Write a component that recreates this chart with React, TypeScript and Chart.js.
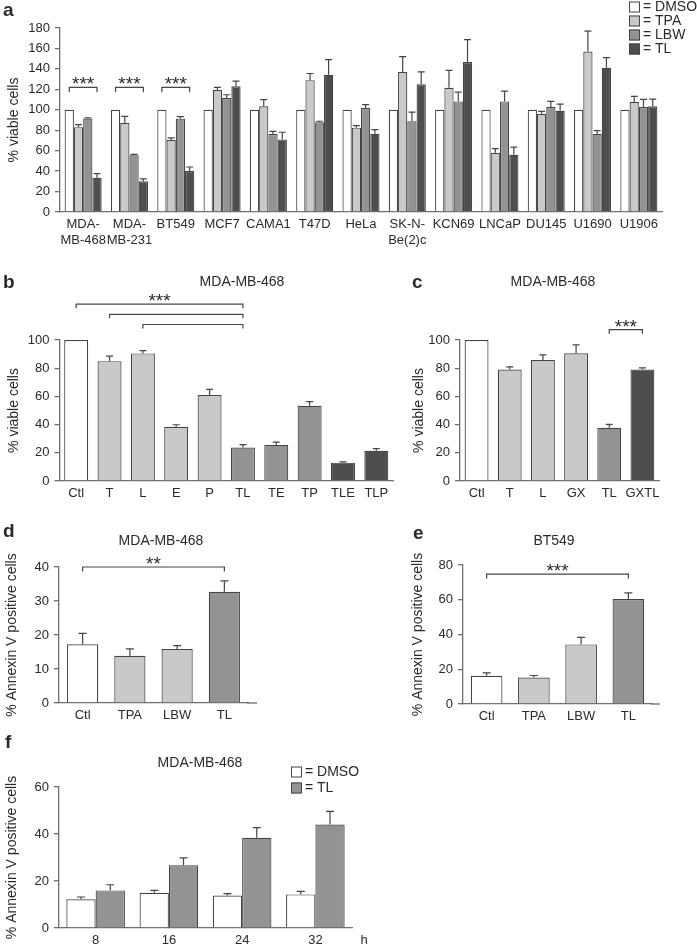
import React, { useEffect, useRef } from 'react';
import { Chart, registerables } from 'chart.js';
Chart.register(...registerables);

const FONT = '"Liberation Sans", Arial, Helvetica, sans-serif';
const INK = '#2a2a2a';
const AXIS = '#6f6f6f';
const EDGE = '#454545';
const WHITE = '#ffffff';
const LIGHT = '#c9c9c9';
const MID = '#939393';
const DARK = '#4e4e4e';
const SHADE_BY_DRUGS = [WHITE, LIGHT, MID, DARK];

// ---------- panel a ----------
const cellLinesA = [['MDA-', 'MB-468'], ['MDA-', 'MB-231'], 'BT549', 'MCF7', 'CAMA1', 'T47D', 'HeLa', ['SK-N-', 'Be(2)c'], 'KCN69', 'LNCaP', 'DU145', 'U1690', 'U1906'];
const dmsoA = [100, 100, 100, 100, 100, 100, 100, 100, 100, 100, 100, 100, 100];
const tpaA = [83, 87, 70.5, 119.5, 103.4, 129, 82.5, 137, 121.5, 58, 96, 157, 107.6];
const tpaErrA = [2.5, 6.5, 2, 2.5, 6.5, 6.5, 2, 15, 17, 4, 2.5, 20, 5.5];
const lbwA = [91.3, 55.5, 91.3, 111.5, 76.3, 87.8, 101.7, 88.7, 108.2, 108.2, 102.7, 76.6, 102.7];
const lbwErrA = [0.7, 0.8, 2, 3.2, 2.6, 1, 3.3, 9, 9, 10, 5.5, 3, 7.5];
const tlA = [33.5, 30, 40, 123, 71, 134.3, 76.6, 125, 146.7, 56, 99, 141, 103.4];
const tlErrA = [4, 2.5, 4, 5, 7, 14.7, 4, 12, 22, 7.5, 6.5, 10, 7];
const sigGroupsA = [0, 1, 2];
const sigLevelA = 122;

// ---------- panel b ----------
const treatB = ['Ctl', 'T', 'L', 'E', 'P', 'TL', 'TE', 'TP', 'TLE', 'TLP'];
const viableB = [100, 85, 90.5, 38.4, 61, 23.8, 25.6, 53.3, 13, 21.5];
const errB = [0, 3.5, 2, 1.5, 4, 2, 2, 3, 0.5, 1.5];
const drugsB = [0, 1, 1, 1, 1, 2, 2, 2, 3, 3];

// ---------- panel c ----------
const treatC = ['Ctl', 'T', 'L', 'GX', 'TL', 'GXTL'];
const viableC = [100, 79, 85.8, 90.6, 37.7, 79];
const errC = [0, 2, 3.6, 6, 2.4, 1.2];
const drugsC = [0, 1, 1, 1, 2, 3];

// ---------- panel d ----------
const treatD = ['Ctl', 'TPA', 'LBW', 'TL'];
const annexinD = [17.3, 13.9, 15.9, 32.7];
const errD = [3.2, 2, 1, 3.2];
const drugsD = [0, 1, 1, 2];

// ---------- panel e ----------
const treatE = ['Ctl', 'TPA', 'LBW', 'TL'];
const annexinE = [16.2, 15.2, 34.3, 60.4];
const errE = [1.7, 1.2, 4, 3.5];
const drugsE = [0, 1, 1, 2];

// ---------- panel f ----------
const hoursF = ['8', '16', '24', '32'];
const dmsoF = [12.2, 15, 13.8, 14.3];
const dmsoErrF = [1, 1, 0.8, 1.3];
const tlF = [16, 26.7, 38.4, 44];
const tlErrF = [2.4, 3.1, 4.3, 5.6];

const YW = 48;

type Rect = { x: number; y: number; w: number; h: number };
type Area = { l: number; r: number; t: number; b: number };
type Spec = {
  canvas: Rect;
  area: Area;
  xh: number;
  labels: any[];
  datasets: { label: string; data: number[]; color: any }[];
  errors: (number[] | null)[];
  yMax: number;
  yStep: number;
  catPct: number;
  barPct: number;
  cap: number;
  drop: number;
  tail?: number;
  brackets: { from: [number, number]; to: [number, number]; at: number; mark?: string }[];
  letter: { text: string; x: number; y: number };
  title?: { text: string; x: number; y: number };
  yTitle: { text: string; x: number };
  legend?: { x: number; y: number; dy: number; box: number };
  notes?: { text: string; x: number; y: number }[];
};

function makeDecor(p: Spec) {
  return {
    id: 'decor',
    afterDatasetsDraw(chart: any) {
      const ctx = chart.ctx;
      const ys = chart.scales.y;
      ctx.save();
      ctx.strokeStyle = EDGE;
      ctx.lineWidth = 1.2;
      p.errors.forEach((errs, di) => {
        if (!errs) return;
        const meta = chart.getDatasetMeta(di);
        const vals = chart.data.datasets[di].data;
        meta.data.forEach((el: any, i: number) => {
          const e = errs[i];
          if (!e) return;
          const top = ys.getPixelForValue(vals[i] + e);
          ctx.beginPath();
          ctx.moveTo(el.x, el.y);
          ctx.lineTo(el.x, top);
          ctx.moveTo(el.x - p.cap / 2, top);
          ctx.lineTo(el.x + p.cap / 2, top);
          ctx.stroke();
        });
      });
      p.brackets.forEach((b) => {
        const x1 = chart.getDatasetMeta(b.from[0]).data[b.from[1]].x;
        const x2 = chart.getDatasetMeta(b.to[0]).data[b.to[1]].x;
        const y = ys.getPixelForValue(b.at);
        ctx.beginPath();
        ctx.moveTo(x1, y + p.drop);
        ctx.lineTo(x1, y);
        ctx.lineTo(x2, y);
        ctx.lineTo(x2, y + p.drop);
        ctx.stroke();
        if (b.mark) {
          ctx.fillStyle = INK;
          ctx.font = `19px ${FONT}`;
          ctx.textAlign = 'center';
          ctx.textBaseline = 'alphabetic';
          ctx.fillText(b.mark, (x1 + x2) / 2, y + 3);
        }
      });
      if (p.tail) {
        const ca = chart.chartArea;
        ctx.strokeStyle = AXIS;
        ctx.lineWidth = 1.3;
        ctx.beginPath();
        ctx.moveTo(ca.right - 1, ca.bottom);
        ctx.lineTo(ca.right + p.tail, ca.bottom);
        ctx.stroke();
      }
      ctx.restore();
    },
    afterDraw(chart: any) {
      const { ctx, chartArea } = chart;
      ctx.save();
      ctx.fillStyle = INK;
      ctx.font = `bold 19px ${FONT}`;
      ctx.textAlign = 'left';
      ctx.textBaseline = 'middle';
      ctx.fillText(p.letter.text, p.letter.x, p.letter.y);
      if (p.title) {
        ctx.font = `14px ${FONT}`;
        ctx.textAlign = 'center';
        ctx.fillText(p.title.text, p.title.x, p.title.y);
      }
      ctx.save();
      ctx.translate(p.yTitle.x, (chartArea.top + chartArea.bottom) / 2);
      ctx.rotate(-Math.PI / 2);
      ctx.font = `14px ${FONT}`;
      ctx.textAlign = 'center';
      ctx.textBaseline = 'middle';
      ctx.fillText(p.yTitle.text, 0, 0);
      ctx.restore();
      if (p.legend) {
        const L = p.legend;
        chart.data.datasets.forEach((d: any, i: number) => {
          const cy = L.y + i * L.dy;
          ctx.fillStyle = d.backgroundColor;
          ctx.fillRect(L.x, cy - L.box / 2, L.box, L.box);
          ctx.strokeStyle = EDGE;
          ctx.lineWidth = 1;
          ctx.strokeRect(L.x + 0.5, cy - L.box / 2 + 0.5, L.box - 1, L.box - 1);
          ctx.fillStyle = INK;
          ctx.font = `14px ${FONT}`;
          ctx.textAlign = 'left';
          ctx.textBaseline = 'middle';
          ctx.fillText(`= ${d.label}`, L.x + L.box + 3, cy + 0.5);
        });
      }
      (p.notes || []).forEach((n) => {
        ctx.fillStyle = INK;
        ctx.font = `13px ${FONT}`;
        ctx.textAlign = 'center';
        ctx.textBaseline = 'middle';
        ctx.fillText(n.text, n.x, n.y);
      });
      ctx.restore();
    },
  };
}

function makeConfig(p: Spec): any {
  const c = p.canvas;
  const a = p.area;
  const padding = {
    left: a.l - c.x - YW,
    right: c.x + c.w - a.r,
    top: a.t - c.y,
    bottom: c.y + c.h - a.b - p.xh,
  };
  return {
    type: 'bar',
    data: {
      labels: p.labels,
      datasets: p.datasets.map((d) => ({
        label: d.label,
        data: d.data,
        backgroundColor: d.color,
        borderColor: EDGE,
        borderWidth: 1.2,
        categoryPercentage: p.catPct,
        barPercentage: p.barPct,
      })),
    },
    options: {
      animation: false,
      responsive: false,
      devicePixelRatio: 1,
      layout: { padding },
      plugins: { legend: { display: false }, tooltip: { enabled: false }, title: { display: false } },
      scales: {
        x: {
          grid: { display: false, drawTicks: false },
          border: { display: true, color: AXIS, width: 1.3 },
          ticks: { color: INK, font: { family: FONT, size: 13, lineHeight: 1.2 }, padding: 5, maxRotation: 0, minRotation: 0, autoSkip: false },
          afterFit: (s: any) => { s.height = p.xh; },
        },
        y: {
          min: 0,
          max: p.yMax,
          ticks: { stepSize: p.yStep, color: INK, font: { family: FONT, size: 13 }, padding: 5 },
          grid: { display: true, drawOnChartArea: false, drawTicks: true, tickLength: 5, color: AXIS, lineWidth: 1.3 },
          border: { display: true, color: AXIS, width: 1.3 },
          afterFit: (s: any) => { s.width = YW; },
        },
      },
    },
    plugins: [makeDecor(p)],
  };
}

const specA: Spec = {
  canvas: { x: 0, y: 0, w: 697, h: 258 },
  area: { l: 60, r: 662, t: 28, b: 212 },
  xh: 40,
  labels: cellLinesA,
  datasets: [
    { label: 'DMSO', data: dmsoA, color: WHITE },
    { label: 'TPA', data: tpaA, color: LIGHT },
    { label: 'LBW', data: lbwA, color: MID },
    { label: 'TL', data: tlA, color: DARK },
  ],
  errors: [null, tpaErrA, lbwErrA, tlErrA],
  yMax: 180,
  yStep: 20,
  catPct: 0.8,
  barPct: 1,
  cap: 7,
  drop: 5,
  brackets: sigGroupsA.map((g) => ({ from: [0, g] as [number, number], to: [3, g] as [number, number], at: sigLevelA, mark: '***' })),
  letter: { text: 'a', x: 3, y: 11 },
  yTitle: { text: '% viable cells', x: 14 },
  legend: { x: 629, y: 7, dy: 14, box: 11 },
};

const specB: Spec = {
  canvas: { x: 0, y: 262, w: 400, h: 250 },
  area: { l: 59.5, r: 393, t: 340, b: 481 },
  xh: 26,
  labels: treatB,
  datasets: [{ label: 'viable', data: viableB, color: drugsB.map((n) => SHADE_BY_DRUGS[n]) }],
  errors: [errB],
  yMax: 100,
  yStep: 20,
  catPct: 0.72,
  barPct: 1,
  cap: 7,
  drop: 4,
  brackets: [
    { from: [0, 0], to: [0, 5], at: 125.4, mark: '***' },
    { from: [0, 1], to: [0, 5], at: 118.2 },
    { from: [0, 2], to: [0, 5], at: 111 },
  ],
  letter: { text: 'b', x: 3, y: 21 },
  title: { text: 'MDA-MB-468', x: 242, y: 20 },
  yTitle: { text: '% viable cells', x: 14 },
};

const specC: Spec = {
  canvas: { x: 400, y: 262, w: 297, h: 250 },
  area: { l: 460, r: 659, t: 340, b: 481 },
  xh: 26,
  labels: treatC,
  datasets: [{ label: 'viable', data: viableC, color: drugsC.map((n) => SHADE_BY_DRUGS[n]) }],
  errors: [errC],
  yMax: 100,
  yStep: 20,
  catPct: 0.72,
  barPct: 1,
  cap: 7,
  drop: 4,
  brackets: [{ from: [0, 4], to: [0, 5], at: 107.3, mark: '***' }],
  letter: { text: 'c', x: 12, y: 21 },
  title: { text: 'MDA-MB-468', x: 153, y: 20 },
  yTitle: { text: '% viable cells', x: 19 },
};

const specD: Spec = {
  canvas: { x: 0, y: 515, w: 350, h: 220 },
  area: { l: 59, r: 248, t: 567, b: 703 },
  xh: 26,
  labels: treatD,
  datasets: [{ label: 'annexin', data: annexinD, color: drugsD.map((n) => SHADE_BY_DRUGS[n]) }],
  errors: [errD],
  yMax: 40,
  yStep: 10,
  catPct: 0.66,
  barPct: 1,
  cap: 8,
  drop: 4.5,
  tail: 9,
  brackets: [{ from: [0, 0], to: [0, 3], at: 40, mark: '**' }],
  letter: { text: 'd', x: 3, y: 17 },
  title: { text: 'MDA-MB-468', x: 161, y: 26 },
  yTitle: { text: '% Annexin V positive cells', x: 12 },
};

const specE: Spec = {
  canvas: { x: 350, y: 515, w: 347, h: 220 },
  area: { l: 463, r: 652, t: 565, b: 704 },
  xh: 26,
  labels: treatE,
  datasets: [{ label: 'annexin', data: annexinE, color: drugsE.map((n) => SHADE_BY_DRUGS[n]) }],
  errors: [errE],
  yMax: 80,
  yStep: 20,
  catPct: 0.67,
  barPct: 1,
  cap: 8,
  drop: 4.5,
  tail: 8,
  brackets: [{ from: [0, 0], to: [0, 3], at: 74.8, mark: '***' }],
  letter: { text: 'e', x: 63, y: 19 },
  title: { text: 'BT549', x: 204, y: 26 },
  yTitle: { text: '% Annexin V positive cells', x: 68 },
};

const specF: Spec = {
  canvas: { x: 0, y: 735, w: 420, h: 215 },
  area: { l: 59, r: 352, t: 787, b: 928 },
  xh: 20,
  labels: hoursF,
  datasets: [
    { label: 'DMSO', data: dmsoF, color: WHITE },
    { label: 'TL', data: tlF, color: MID },
  ],
  errors: [dmsoErrF, tlErrF],
  yMax: 60,
  yStep: 20,
  catPct: 0.8,
  barPct: 1,
  cap: 8,
  drop: 4,
  brackets: [],
  letter: { text: 'f', x: 5, y: 8 },
  title: { text: 'MDA-MB-468', x: 200, y: 28 },
  yTitle: { text: '% Annexin V positive cells', x: 12 },
  legend: { x: 291, y: 37, dy: 16, box: 11 },
  notes: [{ text: 'h', x: 364, y: 205 }],
};

function ChartPanel({ spec }: { spec: Spec }) {
  const ref = useRef<HTMLCanvasElement>(null);
  useEffect(() => {
    const chart = new Chart(ref.current as HTMLCanvasElement, makeConfig(spec));
    return () => chart.destroy();
  }, []);
  const c = spec.canvas;
  return (
    <canvas
      ref={ref}
      width={c.w}
      height={c.h}
      style={{ position: 'absolute', left: c.x, top: c.y, width: c.w, height: c.h }}
    />
  );
}

export default function App() {
  return (
    <div style={{ position: 'absolute', left: 0, top: 0, width: 697, height: 950, background: '#fff', overflow: 'hidden' }}>
      <ChartPanel spec={specA} />
      <ChartPanel spec={specB} />
      <ChartPanel spec={specC} />
      <ChartPanel spec={specD} />
      <ChartPanel spec={specE} />
      <ChartPanel spec={specF} />
    </div>
  );
}
